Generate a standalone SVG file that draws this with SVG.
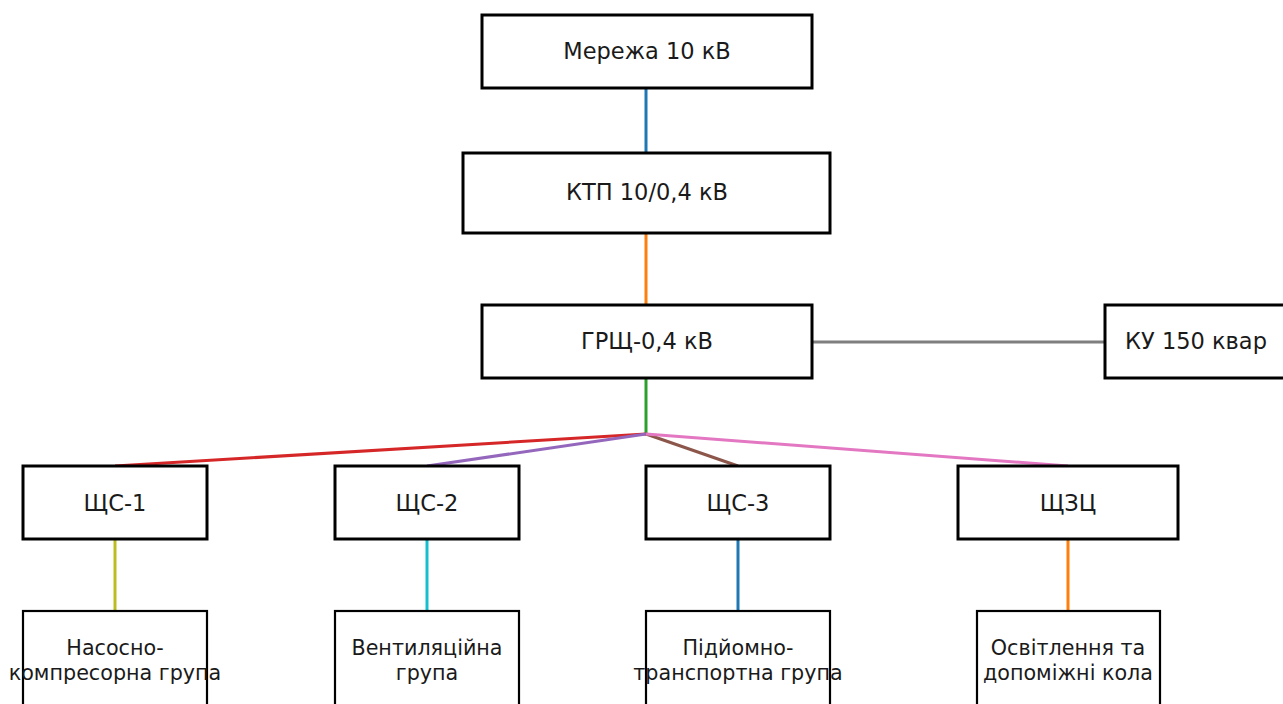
<svg xmlns="http://www.w3.org/2000/svg" width="1283" height="704" viewBox="0 0 1283 704">
<style>
.box{fill:#fff;stroke:#000;stroke-width:3}
.box2{fill:#fff;stroke:#000;stroke-width:2.2}
.t{font-family:"DejaVu Sans",sans-serif;font-size:22.5px;fill:#1a1a1a;text-anchor:middle}
.s{font-size:20.7px}
.c{stroke-width:3;fill:none}
</style>
<rect width="1283" height="704" fill="#fff"/>
<g id="connectors">
<line class="c" x1="646" y1="88" x2="646" y2="153" stroke="#1f77b4"/>
<line class="c" x1="646" y1="233" x2="646" y2="305" stroke="#ff7f0e"/>
<line class="c" x1="646" y1="378" x2="646" y2="434" stroke="#2ca02c"/>
<line class="c" x1="812" y1="342" x2="1105" y2="342" stroke="#7f7f7f"/>
<line class="c" x1="646" y1="434" x2="115" y2="466" stroke="#d62728"/>
<line class="c" x1="646" y1="434" x2="427" y2="466" stroke="#9467bd"/>
<line class="c" x1="646" y1="434" x2="738" y2="466" stroke="#8c564b"/>
<line class="c" x1="646" y1="434" x2="1068" y2="466" stroke="#e377c2"/>
<line class="c" x1="115" y1="539" x2="115" y2="611" stroke="#bcbd22"/>
<line class="c" x1="427" y1="539" x2="427" y2="611" stroke="#17becf"/>
<line class="c" x1="738" y1="539" x2="738" y2="611" stroke="#1f77b4"/>
<line class="c" x1="1068" y1="539" x2="1068" y2="611" stroke="#ff7f0e"/>
</g>
<g id="n-grid"><rect class="box" x="482" y="15" width="330" height="73"/><text class="t" x="647" y="59">Мережа 10 кВ</text></g>
<g id="n-ktp"><rect class="box" x="463" y="153" width="367" height="80"/><text class="t" x="647" y="200">КТП 10/0,4 кВ</text></g>
<g id="n-grsh"><rect class="box" x="482" y="305" width="330" height="73"/><text class="t" x="647" y="349">ГРЩ-0,4 кВ</text></g>
<g id="n-ku"><rect class="box" x="1105" y="305" width="190" height="73"/><text class="t" x="1196" y="349">КУ 150 квар</text></g>
<g id="n-shs1"><rect class="box" x="23" y="466" width="184" height="73"/><text class="t" x="115" y="511">ЩС-1</text></g>
<g id="n-shs2"><rect class="box" x="335" y="466" width="184" height="73"/><text class="t" x="427" y="511">ЩС-2</text></g>
<g id="n-shs3"><rect class="box" x="646" y="466" width="184" height="73"/><text class="t" x="738" y="511">ЩС-3</text></g>
<g id="n-shzc"><rect class="box" x="958" y="466" width="220" height="73"/><text class="t" x="1068" y="511">ЩЗЦ</text></g>
<g id="n-pump"><rect class="box2" x="23" y="611" width="184" height="110"/><text class="t s" x="115" y="655">Насосно-</text><text class="t s" x="115" y="680">компресорна група</text></g>
<g id="n-vent"><rect class="box2" x="335" y="611" width="184" height="110"/><text class="t s" x="427" y="655">Вентиляційна</text><text class="t s" x="427" y="680">група</text></g>
<g id="n-lift"><rect class="box2" x="646" y="611" width="184" height="110"/><text class="t s" x="738" y="655">Підйомно-</text><text class="t s" x="738" y="680">транспортна група</text></g>
<g id="n-light"><rect class="box2" x="977" y="611" width="183" height="110"/><text class="t s" x="1068" y="655">Освітлення та</text><text class="t s" x="1068" y="680">допоміжні кола</text></g>
</svg>
